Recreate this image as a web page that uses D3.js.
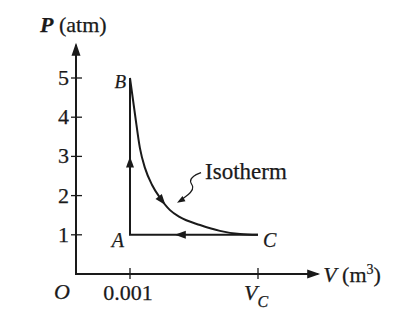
<!DOCTYPE html>
<html>
<head>
<meta charset="utf-8">
<script src="https://d3js.org/d3.v7.min.js"></script>
<style>
  body { margin: 0; background: #fff; }
  text { font-family: "Liberation Serif", "DejaVu Serif", serif; fill: #1a1a1a; stroke: #1a1a1a; stroke-width: 0.25px; }
</style>
</head>
<body>
<div id="chart"></div>
<script>
// P-V diagram data
var pTicks = [1, 2, 3, 4, 5];
var vTicks = [0.001, 0.005];
var vTickLabels = ["0.001", "V_C"];
var states = [
  { name: "A", v: 0.001, p: 1 },
  { name: "B", v: 0.001, p: 5 },
  { name: "C", v: 0.005, p: 1 }
];
// isotherm B -> C
var isoV = [0.001, 0.00116, 0.00131, 0.00147, 0.00169, 0.00194, 0.00225, 0.00256, 0.00319, 0.00381, 0.00444, 0.005];
var isoP = [5, 4.05, 3.21, 2.70, 2.27, 1.94, 1.63, 1.45, 1.25, 1.10, 1.02, 1];
var vMax = 0.00688, pMax = 5.85;

var W = 400, H = 320, ink = "#1a1a1a";
var svg = d3.select("#chart").append("svg").attr("width", W).attr("height", H);

// schematic (not to scale) volume axis
var x = d3.scaleLinear().domain([0, 0.001, 0.005]).range([76, 130, 258]);
var y = d3.scaleLinear().domain([0, 5]).range([274, 78]);

function arrowHead(px, py, angle, len, half) {
  // tip at (px,py), pointing in direction angle
  var c = Math.cos(angle), s = Math.sin(angle);
  var bx = px - c * len, by = py - s * len;
  svg.append("path")
    .attr("d", "M" + px + "," + py + "L" + (bx - s * half) + "," + (by + c * half) +
      "L" + (bx + s * half) + "," + (by - c * half) + "Z")
    .attr("fill", ink);
}

// axes
svg.append("line").attr("x1", x(0)).attr("y1", y(0)).attr("x2", x(0)).attr("y2", y(pMax))
  .attr("stroke", ink).attr("stroke-width", 2);
svg.append("line").attr("x1", x(0) - 1).attr("y1", y(0)).attr("x2", x(vMax)).attr("y2", y(0))
  .attr("stroke", ink).attr("stroke-width", 2);
arrowHead(x(0), y(pMax) - 2, -Math.PI / 2, 13, 4.5);
arrowHead(x(vMax) + 2, y(0), 0, 13, 4.5);

// ticks
pTicks.forEach(function (p) {
  svg.append("line").attr("x1", x(0) - 5).attr("x2", x(0) + 6).attr("y1", y(p)).attr("y2", y(p))
    .attr("stroke", ink).attr("stroke-width", 1.3);
  svg.append("text").attr("x", x(0) - 7).attr("y", y(p) + 7).attr("text-anchor", "end")
    .style("font-size", "22px").text(p);
});
vTicks.forEach(function (v, i) {
  svg.append("line").attr("x1", x(v)).attr("x2", x(v)).attr("y1", y(0) - 6).attr("y2", y(0) + 5)
    .attr("stroke", ink).attr("stroke-width", 1.3);
  var t = svg.append("text").attr("x", x(v) - 2).attr("y", y(0) + 26).attr("text-anchor", "middle")
    .style("font-size", "22px");
  var lab = vTickLabels[i];
  if (lab.indexOf("_") > 0) {
    var parts = lab.split("_");
    t.append("tspan").style("font-style", "italic").text(parts[0]);
    t.append("tspan").attr("dy", 7).style("font-size", "16px").style("font-style", "italic").text(parts[1]);
  } else {
    t.text(lab);
  }
});

// origin and axis titles
svg.append("text").attr("x", x(0) - 14).attr("y", y(0) + 25).attr("text-anchor", "middle")
  .style("font-size", "22px").style("font-style", "italic").text("O");
var pt = svg.append("text").attr("x", 40).attr("y", 32).style("font-size", "22px");
pt.append("tspan").style("font-style", "italic").style("font-weight", "bold").text("P");
pt.append("tspan").text(" (atm)");
var vt = svg.append("text").attr("x", x(vMax) + 5).attr("y", y(0) + 8).style("font-size", "22px");
vt.append("tspan").style("font-style", "italic").text("V");
vt.append("tspan").text(" (m");
vt.append("tspan").attr("dy", -8).style("font-size", "14px").text("3");
vt.append("tspan").attr("dy", 8).text(")");

// process A -> B (vertical) and C -> A (horizontal)
var byName = {};
states.forEach(function (d) { byName[d.name] = d; });
var A = byName.A, B = byName.B, C = byName.C;
svg.append("path")
  .attr("d", d3.line().x(function (d) { return x(d.v); }).y(function (d) { return y(d.p); })([C, A, B]))
  .attr("fill", "none").attr("stroke", ink).attr("stroke-width", 2);
arrowHead(x(A.v), y(3.0), -Math.PI / 2, 11, 4);
arrowHead(x(0.0024), y(1), Math.PI, 11, 4);

// isotherm B -> C
var iso = isoV.map(function (v, i) { return { v: v, p: isoP[i] }; });
var isoPath = svg.append("path")
  .attr("d", d3.line().x(function (d) { return x(d.v); }).y(function (d) { return y(d.p); })
    .curve(d3.curveMonotoneX)(iso))
  .attr("fill", "none").attr("stroke", ink).attr("stroke-width", 2);
// arrow on the isotherm near V = 0.0021
var node = isoPath.node(), L = node.getTotalLength(), s = 0;
while (s < L && node.getPointAtLength(s).x < x(0.0021)) s += 1;
var a1 = node.getPointAtLength(s), a0 = node.getPointAtLength(s - 4);
arrowHead(a1.x, a1.y, Math.atan2(a1.y - a0.y, a1.x - a0.x), 11, 4);

// state labels
svg.append("text").attr("x", x(B.v) - 4).attr("y", y(B.p) + 10).attr("text-anchor", "end")
  .style("font-size", "19px").style("font-style", "italic").text("B");
svg.append("text").attr("x", x(A.v) - 6).attr("y", y(A.p) + 12).attr("text-anchor", "end")
  .style("font-size", "20px").style("font-style", "italic").text("A");
svg.append("text").attr("x", x(C.v) + 5).attr("y", y(C.p) + 12)
  .style("font-size", "20px").style("font-style", "italic").text("C");

// "Isotherm" leader
var tip = { v: 0.00247, p: 1.82 };
var tx = x(tip.v), ty = y(tip.p);
var squiggle = [[24, -30], [16, -27], [12, -21], [17, -16], [14, -10], [7, -5], [2, -1]];
svg.append("path")
  .attr("d", d3.line().curve(d3.curveBasis)(squiggle.map(function (o) { return [tx + o[0], ty + o[1]]; })))
  .attr("fill", "none").attr("stroke", ink).attr("stroke-width", 1.2);
arrowHead(tx, ty, Math.atan2(4, -7), 8, 3);
svg.append("text").attr("x", tx + 28).attr("y", ty - 24)
  .style("font-size", "23px").text("Isotherm");
</script>
</body>
</html>
